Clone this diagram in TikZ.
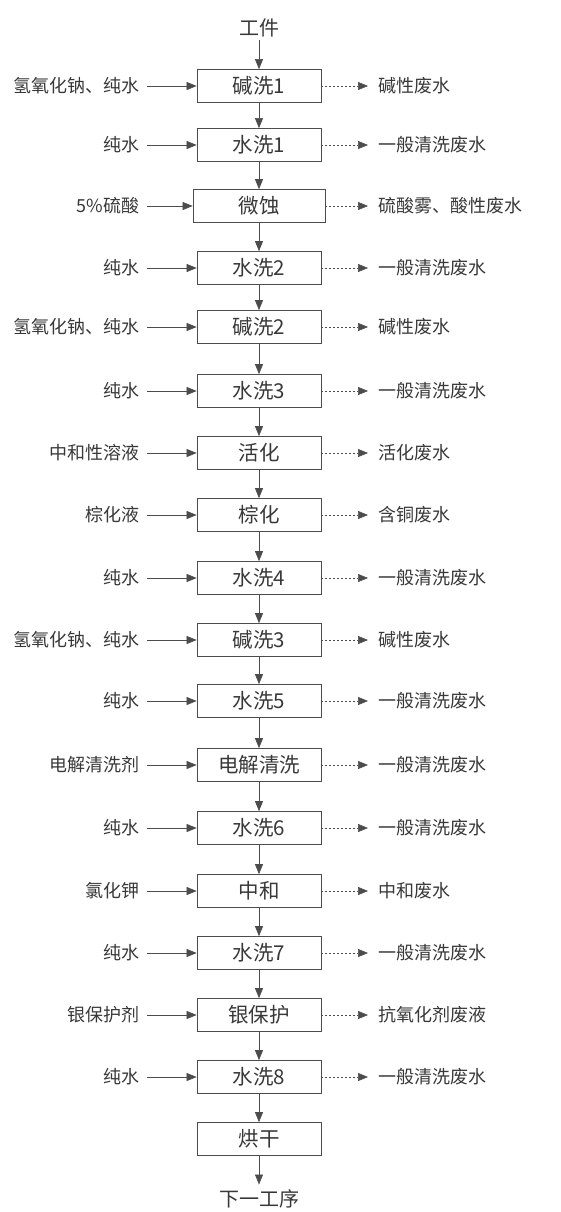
\documentclass[tikz,border=0pt]{standalone}
\usepackage{fontspec}
\setmainfont{Noto Sans CJK SC}
\usetikzlibrary{arrows.meta}
\definecolor{textc}{gray}{0.22}
\definecolor{linec}{gray}{0.3}
\begin{document}
\begin{tikzpicture}[x=1pt,y=-1pt,
  stepbox/.style={draw=linec, line width=0.7pt, minimum width=124pt, minimum height=33pt, inner sep=0pt, text=textc, font=\fontsize{20.5}{22}\selectfont},
  inlab/.style={anchor=east, inner sep=0pt, outer sep=0pt, text=textc, font=\fontsize{18}{20}\selectfont},
  outlab/.style={anchor=west, inner sep=0pt, outer sep=0pt, text=textc, font=\fontsize{18}{20}\selectfont},
  endlab/.style={inner sep=0pt, text=textc, font=\fontsize{20}{22}\selectfont},
  flow/.style={draw=linec, line width=0.6pt, -{Triangle[length=10pt,width=8pt]}},
  waste/.style={flow, dash pattern=on 2pt off 2pt}]
\useasboundingbox (0,0) rectangle (560,1212);

\node[endlab] (start) at (259,28) {工件};
\node[endlab] (finish) at (259,1199) {下一工序};

\foreach \n/\y/\t/\w/\i/\o in {
  1/86/碱洗1/124/氢氧化钠、纯水/碱性废水,
  2/145/水洗1/124/纯水/一般清洗废水,
  3/206/微蚀/132/5\%硫酸/硫酸雾、酸性废水,
  4/268/水洗2/124/纯水/一般清洗废水,
  5/327/碱洗2/124/氢氧化钠、纯水/碱性废水,
  6/391/水洗3/124/纯水/一般清洗废水,
  7/453/活化/124/中和性溶液/活化废水,
  8/515/棕化/124/棕化液/含铜废水,
  9/578/水洗4/124/纯水/一般清洗废水,
  10/640/碱洗3/124/氢氧化钠、纯水/碱性废水,
  11/701/水洗5/124/纯水/一般清洗废水,
  12/765/电解清洗/124/电解清洗剂/一般清洗废水,
  13/828/水洗6/124/纯水/一般清洗废水,
  14/891/中和/124/氯化钾/中和废水,
  15/953/水洗7/124/纯水/一般清洗废水,
  16/1015/银保护/124/银保护剂/抗氧化剂废液,
  17/1077/水洗8/124/纯水/一般清洗废水}{
  \node[stepbox, minimum width=\w pt] (b\n) at (259,\y) {\t};
  \node[inlab] (in\n) at (139,\y) {\i};
  \coordinate (tip\n) at (368,\y);
  \node[outlab] (out\n) at (378,\y) {\o};
  \draw[flow] ([xshift=8pt]in\n.east) -- (b\n.west);
  \draw[waste] (b\n.east) -- (tip\n);
}
\node[stepbox] (b18) at (259,1139) {烘干};

\draw[flow] ([yshift=-3pt]start.south) -- (b1.north);
\foreach \a/\b in {1/2,2/3,3/4,4/5,5/6,6/7,7/8,8/9,9/10,10/11,11/12,12/13,13/14,14/15,15/16,16/17,17/18}{
  \draw[flow] (b\a.south) -- (b\b.north);
}
\draw[flow] (b18.south) -- ([yshift=5pt]finish.north);
\end{tikzpicture}
\end{document}
